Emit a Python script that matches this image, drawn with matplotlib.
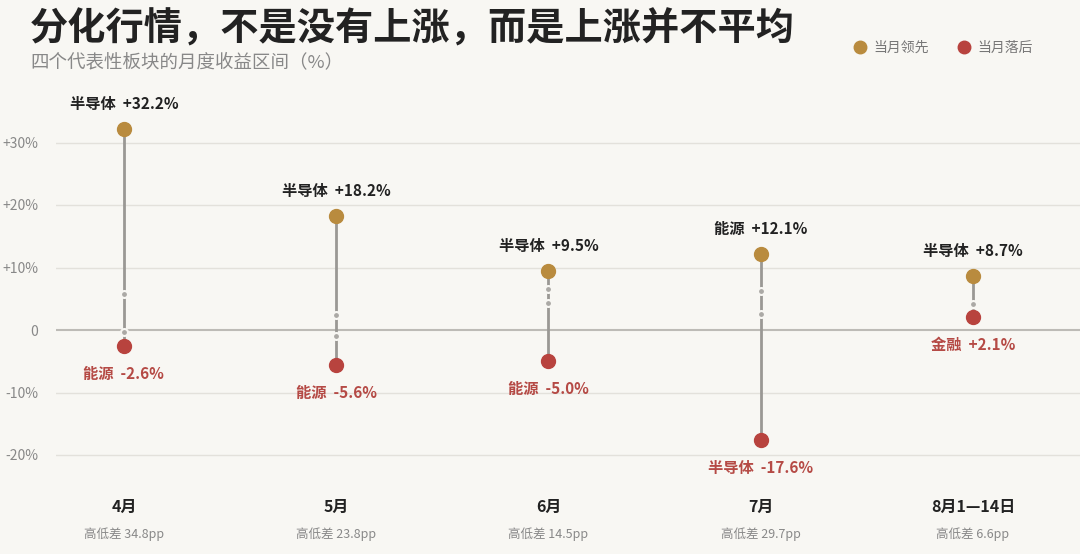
import matplotlib
matplotlib.use("Agg")
import matplotlib.pyplot as plt
import matplotlib.transforms as mtransforms

plt.rcParams['font.family'] = ['Noto Sans CJK SC', 'DejaVu Sans']

# 数据
months = ["4月", "5月", "6月", "7月", "8月1—14日"]
high_names = ["半导体", "半导体", "半导体", "能源", "半导体"]
high_vals = [32.2, 18.2, 9.5, 12.1, 8.7]
low_names = ["能源", "能源", "能源", "半导体", "金融"]
low_vals = [-2.6, -5.6, -5.0, -17.6, 2.1]
mid_a = [5.8, 2.4, 6.6, 6.2, 4.1]
mid_b = [-0.3, -0.9, 4.3, 2.6, 3.0]
spreads = [34.8, 23.8, 14.5, 29.7, 6.6]
yticks = [-20, -10, 0, 10, 20, 30]
ytick_labels = ["-20%", "-10%", "0", "+10%", "+20%", "+30%"]

BG = "#F8F7F3"
GOLD = "#B98B3E"
RED = "#B8433E"
RED_TXT = "#B54A45"
DARK = "#222222"
GRAY = "#888888"

fig = plt.figure(figsize=(10.8, 5.54), dpi=100, facecolor=BG)
W, H = 1080, 554
ax = fig.add_axes([56 / W, 1 - 475 / H, 1 - 56 / W, (475 - 85) / H])
ax.set_facecolor(BG)
ax.set_xlim(-0.32, 4.504)
ax.set_ylim(-23.2, 39.2)

for s in ax.spines.values():
    s.set_visible(False)
ax.set_xticks([])
ax.set_yticks(yticks)
ax.set_yticklabels(ytick_labels, color=GRAY, fontsize=10)
ax.tick_params(axis='y', length=0, pad=13)

# 网格线
for v in yticks:
    if v == 0:
        ax.axhline(v, color="#BDBBB6", lw=1.5, zorder=1)
    else:
        ax.axhline(v, color="#E3E1DB", lw=1.0, zorder=1)

xs = list(range(len(months)))
for i in xs:
    ax.plot([i, i], [low_vals[i], high_vals[i]], color="#9A9894", lw=2.0,
            solid_capstyle='butt', zorder=2)
    ax.plot([i, i], [mid_a[i], mid_b[i]], ls='none', marker='o', ms=5,
            color="#ABA9A5", mec=BG, mew=1.5, zorder=3)
    ax.plot(i, high_vals[i], 'o', ms=10, color=GOLD, mec=GOLD, zorder=4)
    ax.plot(i, low_vals[i], 'o', ms=10, color=RED, mec=RED, zorder=4)

    ax.annotate(f"{high_names[i]}  +{high_vals[i]:.1f}%", (i, high_vals[i]),
                xytext=(0, 25), textcoords='offset pixels', ha='center', va='center',
                fontsize=11, fontweight='bold', color=DARK)
    sign = "+" if low_vals[i] > 0 else ""
    ax.annotate(f"{low_names[i]}  {sign}{low_vals[i]:.1f}%", (i, low_vals[i]),
                xytext=(0, -28), textcoords='offset pixels', ha='center', va='center',
                fontsize=11, fontweight='bold', color=RED_TXT)

# 月份标签
trans = mtransforms.blended_transform_factory(ax.transData, fig.transFigure)
for i in xs:
    fig.text(i, 1 - 507 / H, months[i], transform=trans, ha='center', va='center',
             fontsize=11.5, fontweight='bold', color=DARK)
    fig.text(i, 1 - 534 / H, f"高低差 {spreads[i]:.1f}pp", transform=trans,
             ha='center', va='center', fontsize=9, color=GRAY)

# 标题
fig.text(30 / W, 1 - 29 / H, "分化行情，不是没有上涨，而是上涨并不平均",
         ha='left', va='center', fontsize=27.5, fontweight='bold', color=DARK)
fig.text(30 / W, 1 - 62 / H, "四个代表性板块的月度收益区间（%）",
         ha='left', va='center', fontsize=13.3, color=GRAY)

# 图例
fig.lines.append(plt.Line2D([860 / W], [1 - 47 / H], marker='o', ms=9, color=GOLD,
                            ls='none', transform=fig.transFigure))
fig.text(873 / W, 1 - 48 / H, "当月领先", ha='left', va='center', fontsize=10, color="#777777")
fig.lines.append(plt.Line2D([964 / W], [1 - 47 / H], marker='o', ms=9, color=RED,
                            ls='none', transform=fig.transFigure))
fig.text(977 / W, 1 - 48 / H, "当月落后", ha='left', va='center', fontsize=10, color="#777777")

fig.savefig("out.png", dpi=100, facecolor=BG)
